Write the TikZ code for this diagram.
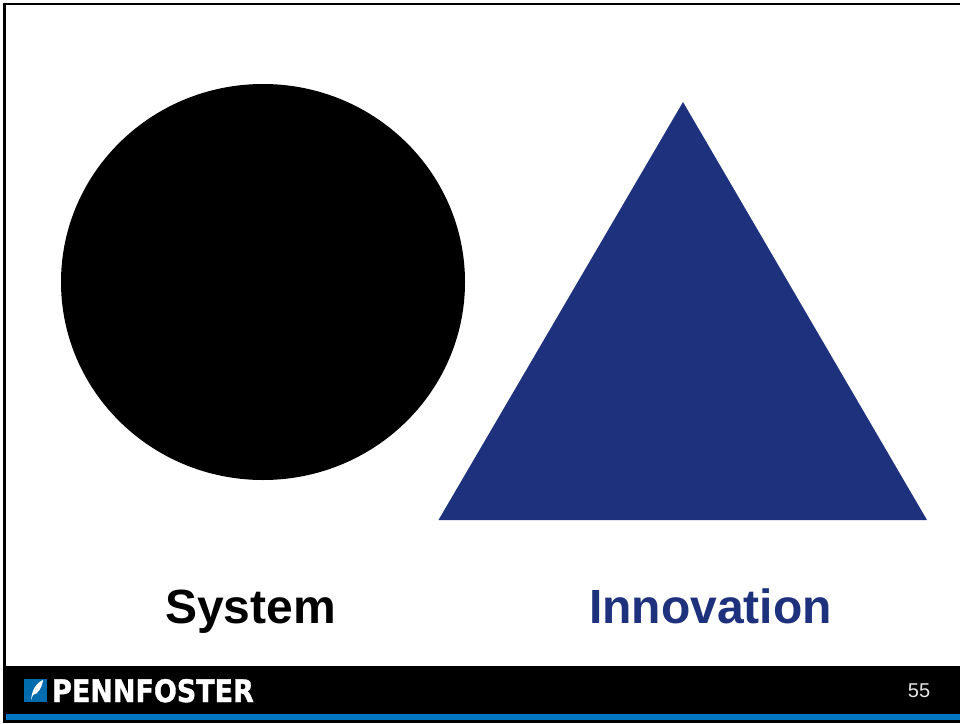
\documentclass[tikz,border=0pt]{standalone}
\usepackage{xcolor}
\usepackage{fontspec}
\setmainfont{Liberation Sans}
\newfontfamily\logofont[BoldFeatures={FakeBold=1.2}]{DejaVu Sans}
\usepackage{tikz}
\usetikzlibrary{positioning, shapes.geometric}
\definecolor{innovblue}{RGB}{30,49,125}
\definecolor{barblue}{RGB}{0,119,192}
\begin{document}
\begin{tikzpicture}[
            x=1pt, y=-1pt,
            shapelabel/.style={font=\fontsize{48}{52}\selectfont\bfseries, anchor=base, inner sep=0pt},
            logotext/.style={font=\logofont\fontsize{31}{33}\selectfont\bfseries, text=white, anchor=base west, inner sep=0pt, xscale=0.87}
        ]
        \useasboundingbox (0,0) rectangle (960,723);
        % frame
        \fill[white] (0,0) rectangle (960,723);
        \draw[black, line width=2.6pt] (3,4) -- (960,4);
        \draw[black, line width=3pt] (4.5,4) -- (4.5,723);

        % footer
        \fill[black] (3,666) rectangle (960,723);
        \fill[barblue] (6,713.5) rectangle (960,719.5);
        \fill[barblue!90!black] (24,679) rectangle (47,702);
        \fill[white] (31,700) .. controls (32,690) and (36,683) .. (43,680) .. controls (42,688) and (38,694) .. (33,695) -- cycle;
        \node[logotext] (logo) at (52,702) {PENNFOSTER};
        \node[font=\fontsize{20}{22}\selectfont, text=white!90!black, inner sep=0pt] (pagenum) at (919,691) {55};

        % shapes
        \node[ellipse, fill=black, minimum width=404pt, minimum height=396pt, inner sep=0pt] (sys) at (263,282) {};
        \fill[innovblue] (683,102) -- (927,520) -- (438.5,520) -- cycle;

        \node[shapelabel] (system) at (250.5,623) {System};
        \node[shapelabel, text=innovblue] (innovation) at (710.5,623) {Innovation};
    \end{tikzpicture}
\end{document}
